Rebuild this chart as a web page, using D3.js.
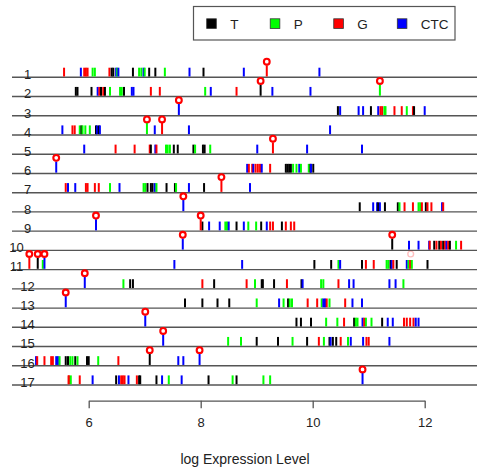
<!DOCTYPE html>
<html>
<head>
<meta charset="utf-8">
<script src="https://cdn.jsdelivr.net/npm/d3@7/dist/d3.min.js"></script>
<style>
  html, body { margin: 0; padding: 0; background: #fff; }
  svg { display: block; font-family: "Liberation Sans", Arial, Helvetica, sans-serif; }
</style>
</head>
<body>
<svg id="chart" width="477" height="472"></svg>
<script>
// Sample types and their colours
const categories = ["T", "P", "G", "CTC"];
const categoryColors = ["#000000", "#00ff00", "#ff0000", "#0000ff"];
const xTicks = [6, 8, 10, 12];
const rowLabels = d3.range(1, 18);

// log expression values per row: [sample type, value]
const row1 = [["G",5.56],["CTC",5.86],["G",5.92],["G",5.95],["G",5.98],["P",6.07],["P",6.11],["G",6.37],["T",6.41],["T",6.44],["CTC",6.49],["P",6.51],["CTC",6.53],["T",6.79],["P",6.90],["P",6.94],["CTC",6.98],["P",7.00],["T",7.08],["T",7.19],["P",7.36],["CTC",7.80],["T",8.05],["CTC",8.77],["CTC",10.12]];
const row2 = [["T",5.77],["T",5.80],["T",6.05],["CTC",6.16],["G",6.19],["T",6.22],["G",6.26],["T",6.29],["P",6.38],["P",6.56],["P",6.59],["T",6.63],["CTC",6.77],["CTC",6.80],["G",7.11],["G",7.27],["P",8.08],["CTC",8.18],["G",8.64],["CTC",9.28],["CTC",9.96]];
const row3 = [["T",10.45],["CTC",10.49],["CTC",10.82],["CTC",10.90],["T",11.04],["CTC",11.17],["G",11.21],["G",11.24],["P",11.28],["P",11.30],["G",11.46],["G",11.59],["P",11.68],["G",11.79],["T",11.81],["CTC",12.00]];
const row4 = [["CTC",5.53],["G",5.71],["G",5.75],["P",5.84],["T",5.87],["P",5.89],["P",5.94],["P",6.02],["T",6.13],["CTC",6.15],["T",6.18],["CTC",6.20],["CTC",7.18],["CTC",7.79],["CTC",10.31]];
const row5 = [["CTC",5.92],["G",6.48],["G",6.82],["G",7.09],["T",7.11],["CTC",7.19],["G",7.21],["P",7.38],["P",7.41],["P",7.45],["T",7.52],["T",7.59],["T",7.87],["P",7.90],["T",8.04],["T",8.07],["P",8.17],["CTC",9.01],["CTC",9.90],["CTC",10.88]];
const row6 = [["CTC",8.83],["G",8.86],["G",8.92],["CTC",8.94],["G",8.98],["G",9.02],["G",9.06],["CTC",9.09],["G",9.24],["T",9.52],["T",9.55],["T",9.58],["T",9.61],["P",9.65],["P",9.71],["CTC",9.76],["P",9.79],["P",9.93],["T",9.96],["CTC",9.97],["T",10.01]];
const row7 = [["G",5.59],["CTC",5.63],["CTC",5.76],["G",5.95],["G",5.98],["G",6.11],["G",6.18],["P",6.38],["CTC",6.55],["P",6.98],["P",7.01],["T",7.05],["T",7.11],["T",7.14],["CTC",7.18],["P",7.21],["T",7.39],["T",7.54],["P",7.56],["CTC",7.79],["T",8.06],["CTC",8.88]];
const row8 = [["T",10.84],["CTC",11.08],["CTC",11.15],["T",11.17],["CTC",11.20],["T",11.29],["T",11.52],["P",11.55],["G",11.64],["G",11.79],["P",11.89],["P",11.92],["G",11.95],["T",12.02],["G",12.05],["G",12.12],["CTC",12.31],["G",12.33]];
const row9 = [["T",8.03],["CTC",8.15],["CTC",8.34],["P",8.44],["P",8.47],["CTC",8.50],["T",8.64],["CTC",8.77],["P",8.85],["P",8.99],["T",9.08],["CTC",9.18],["G",9.24],["G",9.29],["T",9.45],["G",9.52],["G",9.61],["G",9.67]];
const row10 = [["CTC",11.72],["CTC",11.89],["CTC",12.08],["G",12.09],["T",12.17],["G",12.21],["T",12.26],["G",12.29],["T",12.33],["G",12.36],["CTC",12.39],["G",12.42],["T",12.45],["P",12.56],["G",12.65]];
const row11 = [["P",5.18],["CTC",7.53],["CTC",8.74],["T",10.03],["T",10.33],["P",10.46],["CTC",10.49],["T",10.88],["G",10.95],["G",11.09],["P",11.32],["P",11.35],["T",11.39],["CTC",11.41],["G",11.44],["T",11.50],["CTC",11.68],["P",11.71],["G",11.74],["P",11.77],["T",12.05]];
const row12 = [["P",6.62],["T",6.74],["T",6.79],["G",8.03],["T",8.24],["G",8.82],["P",8.97],["T",9.09],["T",9.11],["T",9.31],["G",9.54],["T",9.80],["CTC",9.82],["P",10.15],["P",10.19],["G",10.46],["CTC",10.65],["CTC",10.73],["CTC",11.37],["CTC",11.48],["P",11.62]];
const row13 = [["T",7.72],["T",8.03],["T",8.30],["T",8.51],["P",9.00],["CTC",9.40],["P",9.48],["T",9.56],["P",9.59],["P",9.63],["G",9.91],["G",10.08],["P",10.16],["CTC",10.19],["CTC",10.22],["G",10.25],["P",10.30],["G",10.58],["CTC",10.71],["CTC",10.88]];
const row14 = [["T",9.71],["T",9.79],["T",9.97],["P",10.24],["P",10.44],["G",10.56],["T",10.74],["P",10.77],["P",10.80],["CTC",10.89],["G",10.92],["P",10.95],["P",11.05],["T",11.24],["CTC",11.34],["CTC",11.43],["G",11.63],["G",11.68],["G",11.74],["G",11.80],["CTC",11.84],["CTC",11.89]];
const row15 = [["P",8.49],["P",8.72],["T",9.00],["T",9.38],["P",9.64],["T",9.90],["G",10.11],["P",10.20],["T",10.30],["CTC",10.32],["T",10.36],["T",10.42],["G",10.50],["P",10.63],["CTC",10.68],["CTC",10.90],["G",10.96],["G",11.00],["CTC",11.37]];
const row16 = [["CTC",5.06],["G",5.08],["G",5.21],["G",5.33],["G",5.36],["CTC",5.42],["CTC",5.45],["P",5.48],["T",5.59],["T",5.63],["P",5.67],["P",5.71],["T",5.76],["P",5.80],["T",5.97],["T",6.00],["P",6.17],["G",6.53],["CTC",7.60],["CTC",7.69]];
const row17 = [["G",5.64],["G",5.65],["P",5.68],["G",5.84],["CTC",6.07],["T",6.49],["CTC",6.54],["G",6.58],["G",6.61],["G",6.64],["CTC",6.71],["G",6.86],["T",6.90],["T",6.92],["T",7.21],["CTC",7.31],["P",7.43],["CTC",7.66],["T",8.14],["P",8.57],["T",8.64],["P",9.12],["P",9.24]];

// Marked measurements: [row, sample type, value]
const highlights = [[1,"G",9.18],[2,"T",9.07],[2,"P",11.20],[3,"CTC",7.61],[4,"P",7.04],[4,"G",7.31],[5,"G",9.29],[6,"CTC",5.42],[7,"G",8.37],[8,"CTC",7.69],[9,"CTC",6.13],[9,"G",8.00],[10,"CTC",7.68],[10,"T",11.42],[11,"G",4.94],[11,"T",5.09],[11,"CTC",5.21],[12,"CTC",5.93],[13,"CTC",5.59],[14,"CTC",7.01],[15,"CTC",7.33],[16,"T",7.09],[16,"CTC",7.98],[17,"CTC",10.89]];
// Faded marker: [row, value]
const fadedMarks = [[11, 11.75]];

const rows = [row1,row2,row3,row4,row5,row6,row7,row8,row9,row10,row11,row12,row13,row14,row15,row16,row17];

const svg = d3.select("#chart");
const W = 477;

const color = d3.scaleOrdinal().domain(categories).range(categoryColors);
const x = d3.scaleLinear().domain([6, 12]).range([88.7, 424.7]);
const y = d3.scaleLinear().domain([1, 17]).range([77.3, 385]);

const plotLeft = 12;

// Row baselines
svg.append("g").selectAll("line").data(rowLabels).join("line")
  .attr("x1", plotLeft).attr("x2", W)
  .attr("y1", d => y(d)).attr("y2", d => y(d))
  .attr("stroke", "#555").attr("stroke-width", 1.4);

// Row labels
svg.append("g").selectAll("text").data(rowLabels).join("text")
  .attr("x", d => (d === 10 || d === 11) ? 16.5 : 27.5)
  .attr("y", d => y(d) + 1.8)
  .attr("text-anchor", "middle")
  .attr("font-size", 13)
  .attr("fill", "#222")
  .text(d => d);

// Expression ticks
const ticks = rows.flatMap((r, i) => r.map(([type, v]) => ({ row: i + 1, type, v })));
svg.append("g").selectAll("line").data(ticks).join("line")
  .attr("x1", d => x(d.v)).attr("x2", d => x(d.v))
  .attr("y1", d => y(d.row) - 9.6).attr("y2", d => y(d.row) - 0.8)
  .attr("stroke", d => color(d.type)).attr("stroke-width", 2);

// Marked measurements: stem plus open circle
const hl = highlights.map(([row, type, v]) => ({ row, type, v }));
svg.append("g").selectAll("line").data(hl).join("line")
  .attr("x1", d => x(d.v)).attr("x2", d => x(d.v))
  .attr("y1", d => y(d.row) - 12).attr("y2", d => y(d.row) - 0.8)
  .attr("stroke", d => color(d.type)).attr("stroke-width", 2);
svg.append("g").selectAll("circle").data(hl).join("circle")
  .attr("cx", d => x(d.v)).attr("cy", d => y(d.row) - 15.6)
  .attr("r", 2.9)
  .attr("fill", "none").attr("stroke", "#ff0000").attr("stroke-width", 2.1);
svg.append("g").selectAll("circle").data(fadedMarks).join("circle")
  .attr("cx", d => x(d[1])).attr("cy", d => y(d[0]) - 15.6)
  .attr("r", 2.9)
  .attr("fill", "none").attr("stroke", "#ff0000").attr("stroke-width", 1.4)
  .attr("opacity", 0.25);

// Bottom axis
const axisY = 400.7;
const axis = svg.append("g").attr("transform", `translate(0,${axisY})`)
  .call(d3.axisBottom(x).tickValues(xTicks).tickFormat(d3.format("d"))
    .tickSize(7.5).tickPadding(10).tickSizeOuter(0));
axis.select(".domain").attr("stroke", "#555").attr("stroke-width", 1.3);
axis.selectAll(".tick line").attr("stroke", "#555").attr("stroke-width", 1.3);
axis.selectAll(".tick text")
  .attr("font-family", "Liberation Sans, Arial, sans-serif")
  .attr("font-size", 13).attr("fill", "#222");

svg.append("text")
  .attr("x", 245).attr("y", 463.5)
  .attr("text-anchor", "middle")
  .attr("font-size", 14).attr("fill", "#222")
  .text("log Expression Level");

// Legend
const legend = svg.append("g");
legend.append("rect")
  .attr("x", 193.5).attr("y", 6.5).attr("width", 261.5).attr("height", 33.5)
  .attr("fill", "#fff").attr("stroke", "#555").attr("stroke-width", 1.2);
const legendX = d3.scalePoint().domain(categories).range([206.7, 397.3]);
const items = legend.selectAll("g").data(categories).join("g")
  .attr("transform", d => `translate(${legendX(d)},0)`);
items.append("rect")
  .attr("x", 0).attr("y", 18.8).attr("width", 9.6).attr("height", 9.6)
  .attr("fill", d => color(d)).attr("stroke", "#333").attr("stroke-width", 0.8);
items.append("text")
  .attr("x", 23.5).attr("y", 28.6)
  .attr("font-size", 13.5).attr("fill", "#222")
  .text(d => d);
</script>
</body>
</html>
